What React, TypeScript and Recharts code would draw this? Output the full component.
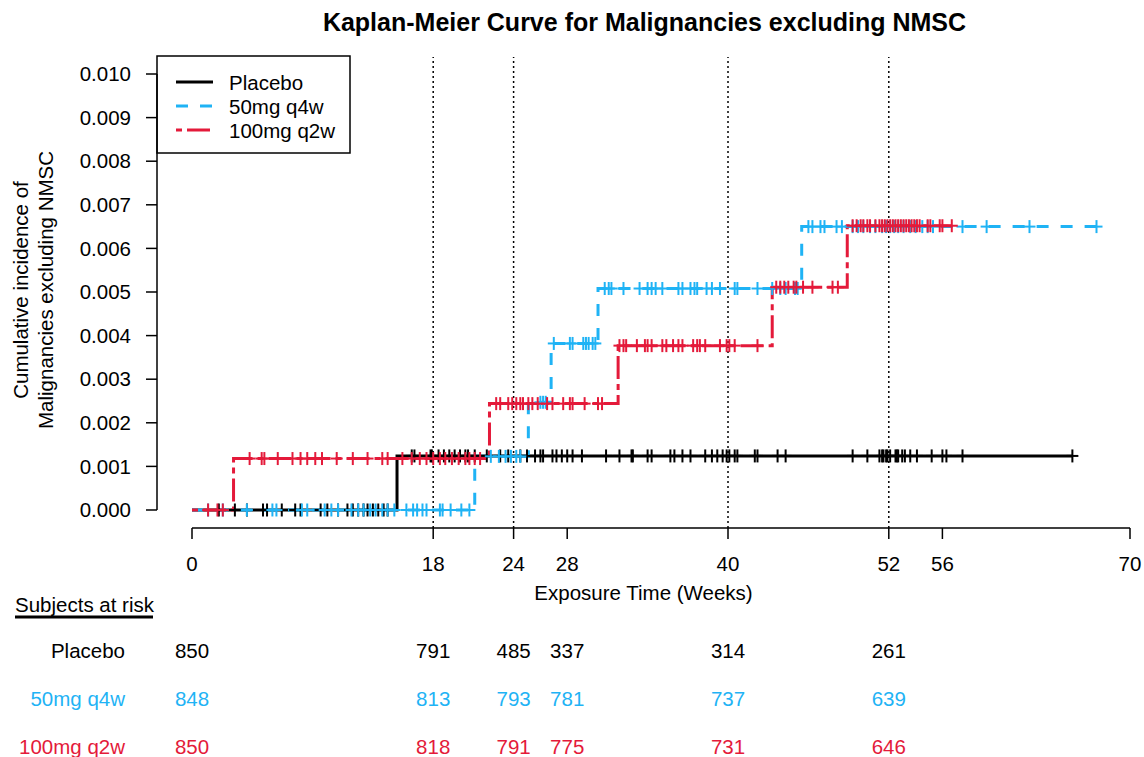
import { ComposedChart, Line, Scatter, XAxis, YAxis, ReferenceLine } from "recharts";

const FONT = '"Liberation Sans", Arial, Helvetica, sans-serif';
const FS = 20.5;

const BLACK = "#000000";
const BLUE = "#1FB3F5";
const RED = "#E41A3A";

// Kaplan-Meier steps: event times (weeks) and cumulative incidence after each event
const placeboT = [0, 15.3, 65.7];
const placeboCI = [0, 0.00124, 0.00124];
const q4wT = [0, 21.1, 25.1, 26.8, 30.3, 45.5, 67.6];
const q4wCI = [0, 0.00123, 0.00247, 0.00382, 0.00508, 0.0065, 0.0065];
const q2wT = [0, 3.1, 22.2, 31.8, 43.3, 48.9, 56.7];
const q2wCI = [0, 0.00118, 0.00244, 0.00377, 0.00511, 0.00652, 0.00652];

// censoring times (weeks)
const placeboCens = [
  2.0, 3.2, 4.1, 5.3, 5.6, 6.7, 7.7, 8.1, 9.6, 10.1, 10.9, 11.6, 12.0, 12.4, 12.8, 13.1, 13.5, 13.9, 14.3, 14.6,
  16.4, 16.6, 17.8, 17.9, 18.4, 18.8, 19.2, 19.6, 20.0, 20.4, 20.6, 21.1, 22.0, 23.0, 23.6, 24.5, 25.0,
  25.6, 26.0, 26.2, 26.9, 27.2, 27.6, 28.0, 28.4, 29.1, 30.9, 31.9, 32.8, 32.9, 34.0, 34.3, 35.7, 36.0, 36.6, 37.2,
  38.3, 38.8, 39.2, 39.6, 39.9, 40.1, 40.5, 40.7, 42.0, 42.2, 43.7, 44.3,
  49.3, 50.4, 51.3, 51.5, 51.6, 51.8, 51.9, 52.1, 52.5, 52.6, 52.7, 53.0, 53.2, 53.6, 54.1, 55.2, 56.0, 56.3, 57.5, 65.7,
];
const q4wCens = [
  1.2, 2.3, 4.1, 6.0, 6.3, 8.2, 8.6, 9.9, 10.4, 10.9, 11.9, 12.4, 12.8, 13.3, 13.7, 14.2, 14.6, 15.1,
  16.0, 16.5, 16.8, 17.2, 17.5, 18.5, 18.7, 19.3, 20.1, 20.7,
  22.3, 22.9, 23.4, 23.8, 24.2, 24.5, 26.0, 26.2, 26.4,
  27.0, 28.2, 28.4, 29.2, 29.4, 29.6, 29.9, 30.1,
  30.8, 31.1, 31.3, 32.2, 33.4, 34.0, 34.3, 34.6, 35.1, 36.3, 36.6, 37.2, 37.5, 37.7, 38.4, 38.8, 39.4, 40.5, 40.7,
  42.2, 43.3, 43.9, 44.3, 45.0, 45.2,
  46.0, 46.3, 46.9, 47.2, 48.1, 48.5, 49.3, 49.7, 50.1, 50.6, 51.0, 51.5, 51.8, 52.1, 52.4, 52.7, 53.1, 53.6, 54.0,
  54.5, 54.9, 55.3, 57.5, 59.3, 62.5, 67.5,
];
const q2wCens = [
  1.2, 1.9, 2.3,
  4.3, 5.2, 5.4, 6.4, 7.5, 8.1, 8.6, 9.2, 9.7, 10.8, 12.0, 13.1, 14.2, 14.6, 15.7, 16.4, 17.0, 17.5, 18.0, 18.5,
  18.9, 19.4, 19.9, 20.4, 20.7, 21.1, 21.5,
  22.7, 23.0, 23.6, 23.9, 24.2, 24.5, 24.7, 25.1, 25.4, 25.8, 26.5, 26.9, 27.7, 28.2, 28.4, 29.3, 30.3, 30.6,
  31.9, 32.2, 32.4, 33.2, 33.8, 34.0, 34.3, 35.1, 35.4, 35.9, 36.3, 36.6, 37.4, 37.7, 37.9, 38.3, 39.4, 39.9, 40.1,
  40.5, 42.2,
  43.6, 43.9, 44.2, 44.5, 44.9, 45.1, 45.6, 46.3, 47.8, 48.2,
  49.3, 49.6, 49.9, 50.1, 50.4, 50.6, 51.0, 51.3, 51.5, 51.7, 51.9, 52.1, 52.3, 52.5, 52.7, 52.9, 53.1, 53.3,
  53.5, 53.7, 53.9, 54.1, 54.3, 54.9, 55.1, 55.8, 56.0, 56.7,
];

// subjects at risk
const riskTimes = [0, 18, 24, 28, 40, 52];
const riskPlacebo = [850, 791, 485, 337, 314, 261];
const riskQ4w = [848, 813, 793, 781, 737, 639];
const riskQ2w = [850, 818, 791, 775, 731, 646];

const xTicks = [0, 18, 24, 28, 40, 52, 56, 70];
const yTicks = [0, 0.001, 0.002, 0.003, 0.004, 0.005, 0.006, 0.007, 0.008, 0.009, 0.01];
const markerWeeks = [18, 24, 40, 52];

const X_DOMAIN: [number, number] = [-2.612, 70];
const Y_DOMAIN: [number, number] = [-0.000413, 0.01039];

const steps = (t: number[], v: number[]) => t.map((x, i) => ({ t: x, v: v[i] }));
const levelAt = (t: number[], v: number[], x: number) => {
  let k = 0;
  for (let i = 0; i < t.length; i++) if (t[i] <= x) k = i;
  return v[k];
};
const censored = (c: number[], t: number[], v: number[]) => c.map((x) => ({ t: x, v: levelAt(t, v, x) }));

const groups = [
  { name: "Placebo", color: BLACK, dash: undefined, line: steps(placeboT, placeboCI), cens: censored(placeboCens, placeboT, placeboCI), risk: riskPlacebo },
  { name: "50mg q4w", color: BLUE, dash: "12 12", line: steps(q4wT, q4wCI), cens: censored(q4wCens, q4wT, q4wCI), risk: riskQ4w },
  { name: "100mg q2w", color: RED, dash: "6 5 23 5", line: steps(q2wT, q2wCI), cens: censored(q2wCens, q2wT, q2wCI), risk: riskQ2w },
];

const rowY = [650, 698, 746];

const plus = (color: string) => (p: any) => {
  const { cx, cy } = p;
  return (
    <g>
      <line x1={cx} x2={cx} y1={cy - 6.5} y2={cy + 6.5} stroke={color} strokeWidth={2} />
      <line x1={cx - 6} x2={cx + 6} y1={cy} y2={cy} stroke={color} strokeWidth={2} />
    </g>
  );
};

const RiskTick = (props: any) => {
  const { x, y, payload } = props;
  const t = payload.value;
  const k = riskTimes.indexOf(t);
  return (
    <g>
      <text x={x} y={y + 22} textAnchor="middle" dominantBaseline="central" fill="#000" fontFamily={FONT} fontSize={FS}>
        {t}
      </text>
      {k >= 0 &&
        groups.map((g, i) => (
          <text
            key={g.name}
            x={x}
            y={rowY[i] - 541 + y}
            textAnchor="middle"
            dominantBaseline="central"
            fill={g.color}
            fontFamily={FONT}
            fontSize={FS}
          >
            {g.risk[k]}
          </text>
        ))}
    </g>
  );
};

export default function App() {
  return (
    <div style={{ position: "absolute", left: 0, top: 0, width: 1144, height: 757, background: "#fff" }}>
      <ComposedChart width={1144} height={757} margin={{ top: 57, right: 14, bottom: 189, left: 97 }}>
        <XAxis
          type="number"
          dataKey="t"
          domain={X_DOMAIN}
          ticks={xTicks}
          interval={0}
          axisLine={false}
          tickLine={{ stroke: "#000", strokeWidth: 1.5 }}
          tickSize={11}
          height={40}
          tick={<RiskTick />}
        />
        <YAxis
          type="number"
          dataKey="v"
          domain={Y_DOMAIN}
          ticks={yTicks}
          interval={0}
          width={60}
          axisLine={false}
          tickLine={{ stroke: "#000", strokeWidth: 1.5 }}
          tickSize={11}
          tickMargin={15}
          tickFormatter={(v: number) => v.toFixed(3)}
          tick={{ fill: "#000", fontSize: FS, fontFamily: FONT }}
        />
        <ReferenceLine
          segment={[{ x: X_DOMAIN[0], y: 0 }, { x: X_DOMAIN[0], y: 0.01 }]}
          stroke="#000"
          strokeWidth={1.5}
          ifOverflow="visible"
        />
        <ReferenceLine
          segment={[{ x: 0, y: Y_DOMAIN[0] }, { x: 70, y: Y_DOMAIN[0] }]}
          stroke="#000"
          strokeWidth={1.5}
          ifOverflow="visible"
        />
        {markerWeeks.map((w) => (
          <ReferenceLine key={w} x={w} stroke="#000" strokeWidth={1.5} strokeDasharray="2 3" />
        ))}
        {groups.flatMap((g) => [
          <Line
            key={g.name + "-l"}
            data={g.line}
            dataKey="v"
            type="stepAfter"
            stroke={g.color}
            strokeWidth={3}
            strokeDasharray={g.dash}
            dot={false}
            activeDot={false}
            isAnimationActive={false}
          />,
          <Scatter
            key={g.name + "-c"}
            data={g.cens}
            dataKey="v"
            shape={plus(g.color)}
            isAnimationActive={false}
          />,
        ])}
      </ComposedChart>
      <svg
        width={1144}
        height={757}
        style={{ position: "absolute", left: 0, top: 0, pointerEvents: "none" }}
        fontFamily={FONT}
        fontSize={FS}
      >
        <text x={644.5} y={22} textAnchor="middle" dominantBaseline="central" fontWeight="bold" fontSize={25}>
          Kaplan-Meier Curve for Malignancies excluding NMSC
        </text>
        <text transform="translate(20,290) rotate(-90)" textAnchor="middle" dominantBaseline="central">
          Cumulative incidence of
        </text>
        <text transform="translate(45,290) rotate(-90)" textAnchor="middle" dominantBaseline="central">
          Malignancies excluding NMSC
        </text>
        <text x={643.5} y={592} textAnchor="middle" dominantBaseline="central">
          Exposure Time (Weeks)
        </text>
        <rect x={157} y={56} width={193} height={97} fill="none" stroke="#000" strokeWidth={1.5} />
        {groups.map((g, i) => (
          <g key={g.name}>
            <line x1={176} x2={213} y1={82 + i * 24} y2={82 + i * 24} stroke={g.color} strokeWidth={3} strokeDasharray={g.dash} />
            <text x={229} y={82 + i * 24} dominantBaseline="central">
              {g.name}
            </text>
          </g>
        ))}
        <text x={15} y={604} dominantBaseline="central">
          Subjects at risk
        </text>
        <line x1={15} x2={153} y1={617} y2={617} stroke="#000" strokeWidth={3} />
        {groups.map((g, i) => (
          <text key={g.name} x={125} y={rowY[i]} textAnchor="end" dominantBaseline="central" fill={g.color}>
            {g.name}
          </text>
        ))}
      </svg>
    </div>
  );
}
